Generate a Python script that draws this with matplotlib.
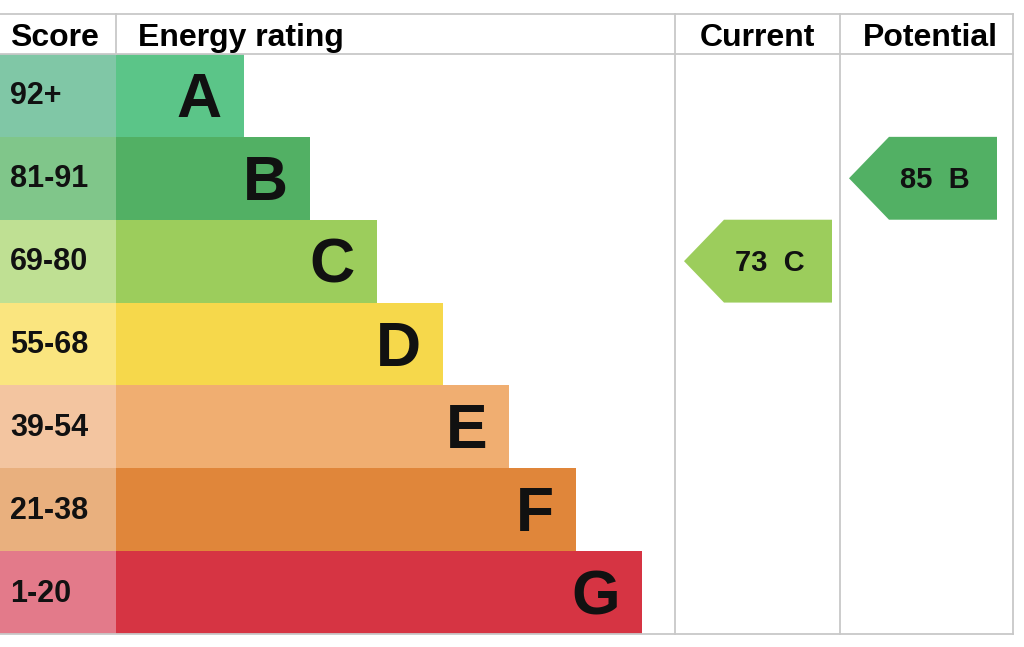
import matplotlib
matplotlib.use("Agg")
import matplotlib.pyplot as plt
from matplotlib.patches import Rectangle, Polygon

# ---- data ----
bands = ["A", "B", "C", "D", "E", "F", "G"]
score_labels = ["92+", "81-91", "69-80", "55-68", "39-54", "21-38", "1-20"]
score_min = [92, 81, 69, 55, 39, 21, 1]
bar_colors = ["#5bc588", "#52b064", "#9ccd5c", "#f6d84b", "#f0ae71", "#e0863a", "#d63443"]
score_colors = ["#80c7a6", "#80c68a", "#bfe093", "#fae57f", "#f3c5a0", "#e9b07e", "#e37a8a"]
current = 73
potential = 85

plt.rcParams["font.family"] = ["Liberation Sans", "DejaVu Sans"]

fig = plt.figure(figsize=(10.24, 6.47), dpi=100)
ax = fig.add_axes([0, 0, 1, 1])
ax.set_xlim(0, 1024)
ax.set_ylim(647, 0)
ax.axis("off")

GRID = "#c8c8c8"
TOP, HEAD, BOT = 14, 54, 634
ROW_H = (BOT - HEAD) / len(bands)
SCORE_W = 116
BAR_X0 = 116
BAR_W0, BAR_STEP = 128, 66.3
CUR_X0, POT_X0, RIGHT = 675, 840, 1013
ARROW_W = 148


def band_index(v):
    for i, m in enumerate(score_min):
        if v >= m:
            return i
    return len(bands) - 1


# header
HFS = 23
HY = 38
ax.text(10, HY, "Score", ha="left", va="center", fontsize=HFS, fontweight="bold")
ax.text(138, HY, "Energy rating", ha="left", va="center", fontsize=HFS, fontweight="bold")
ax.text((CUR_X0 + POT_X0) / 2, HY, "Current", ha="center", va="center",
        fontsize=HFS, fontweight="bold")
ax.text((POT_X0 + RIGHT) / 2 + 4, HY, "Potential", ha="center", va="center",
        fontsize=HFS, fontweight="bold")

# bands
for i, (b, lab) in enumerate(zip(bands, score_labels)):
    y = HEAD + i * ROW_H
    ax.add_patch(Rectangle((0, y), SCORE_W, ROW_H, facecolor=score_colors[i],
                           edgecolor="none", zorder=1))
    w = BAR_W0 + BAR_STEP * i
    ax.add_patch(Rectangle((BAR_X0, y), w, ROW_H, facecolor=bar_colors[i],
                           edgecolor="none", zorder=1))
    ax.text(10, y + ROW_H / 2 + 1, lab, ha="left", va="center", fontsize=22,
            fontweight="bold", color="#111")
    ax.text(BAR_X0 + w - 22, y + ROW_H / 2 + 5, b, ha="right", va="center",
            fontsize=45, fontweight="bold", color="#111")


def arrow(value, x0):
    i = band_index(value)
    y = HEAD + i * ROW_H
    tip = x0 + 9
    body = tip + 40
    right = tip + ARROW_W
    pts = [(tip, y + ROW_H / 2), (body, y), (right, y), (right, y + ROW_H),
           (body, y + ROW_H)]
    ax.add_patch(Polygon(pts, closed=True, facecolor=bar_colors[i],
                         edgecolor="none", zorder=2))
    ax.text(tip + 86, y + ROW_H / 2 + 2, f"{value}  {bands[i]}",
            ha="center", va="center", fontsize=21, fontweight="bold",
            color="#111", zorder=3)


arrow(current, CUR_X0)
arrow(potential, POT_X0)

# grid lines
lw = 1.3
ax.plot([0, RIGHT], [TOP, TOP], color=GRID, lw=lw, zorder=4)
ax.plot([0, RIGHT], [HEAD, HEAD], color=GRID, lw=lw, zorder=4)
ax.plot([0, RIGHT], [BOT, BOT], color=GRID, lw=lw, zorder=4)
ax.plot([SCORE_W, SCORE_W], [TOP, HEAD], color=GRID, lw=lw, zorder=4)
for x in (CUR_X0, POT_X0, RIGHT):
    ax.plot([x, x], [TOP, BOT], color=GRID, lw=lw, zorder=4)

fig.savefig("out.png", dpi=100, facecolor="white")
